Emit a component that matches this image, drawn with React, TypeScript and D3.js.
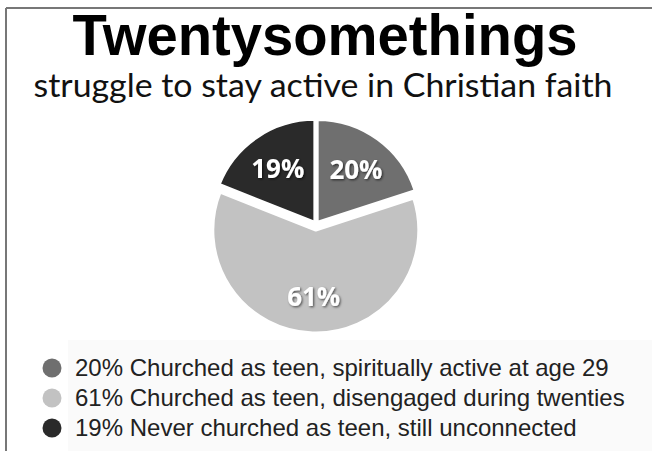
import React from 'react';
import * as d3 from 'd3';

const labels = [
  'Churched as teen, spiritually active at age 29',
  'Churched as teen, disengaged during twenties',
  'Never churched as teen, still unconnected',
];
const shares = [20, 61, 19];
const colors = ['#6f6f6f', '#c2c2c2', '#2a2a2a'];
const offsets = [2, 6, 2];

const App: React.FC = () => {
  const width = 652;
  const height = 451;
  const cx = 316;
  const cy = 224;
  const radius = 103;

  const pie = d3.pie<number>().sort(null).value((d) => d);
  const arcs = pie(shares);
  const arc = d3.arc<d3.PieArcDatum<number>>().innerRadius(0).outerRadius(radius);
  const labelArc = d3.arc<d3.PieArcDatum<number>>().innerRadius(66).outerRadius(66);

  const legendY = d3.scalePoint<number>().domain([0, 1, 2]).range([367, 427]);

  return (
    <svg
      width={width}
      height={height}
      style={{ position: 'absolute', left: 0, top: 0, background: '#fff' }}
    >
      <defs>
        <filter id="shadow" x="-20%" y="-20%" width="140%" height="140%">
          <feDropShadow dx="1.2" dy="1.2" stdDeviation="0.8" floodColor="#000" floodOpacity="0.6" />
        </filter>
      </defs>
      <rect x={68} y={340} width={width - 68} height={height - 340} fill="#fafafa" />
      <line x1={6} y1={8} x2={width} y2={8} stroke="#777" strokeWidth={2} />
      <line x1={6} y1={8} x2={6} y2={height} stroke="#777" strokeWidth={2} />

      <text
        x={325}
        y={55}
        textAnchor="middle"
        fontFamily="'Liberation Sans', Arial, sans-serif"
        fontWeight="bold"
        fontSize={57}
        fill="#000"
        textLength={505}
        lengthAdjust="spacingAndGlyphs"
      >
        Twentysomethings
      </text>
      <text
        x={323}
        y={97}
        textAnchor="middle"
        fontFamily="Lato, 'Open Sans', sans-serif"
        fontSize={32}
        fill="#111"
        textLength={579}
        lengthAdjust="spacingAndGlyphs"
      >
        struggle to stay active in Christian faith
      </text>

      <g transform={`translate(${cx},${cy})`}>
        {arcs.map((a, i) => {
          const mid = (a.startAngle + a.endAngle) / 2;
          const dx = Math.sin(mid) * offsets[i];
          const dy = -Math.cos(mid) * offsets[i];
          const [lx, ly] = labelArc.centroid(a);
          return (
            <g key={i} transform={`translate(${dx},${dy})`}>
              <path d={arc(a) || ''} fill={colors[i]} stroke="#fff" strokeWidth={3} strokeLinejoin="round" />
              <text
                x={lx}
                y={ly}
                textAnchor="middle"
                dominantBaseline="central"
                fontFamily="'Open Sans', sans-serif"
                fontWeight="bold"
                fontSize={26}
                fill="#fff"
                filter="url(#shadow)"
              >
                {shares[i]}%
              </text>
            </g>
          );
        })}
      </g>

      {labels.map((l, i) => (
        <g key={l} transform={`translate(0,${legendY(i)})`}>
          <circle cx={52} cy={1} r={9.5} fill={colors[i]} />
          <text
            x={75}
            y={0}
            dominantBaseline="central"
            fontFamily="'Liberation Sans', Arial, sans-serif"
            fontSize={24}
            fill="#222"
          >
            {shares[i]}% {l}
          </text>
        </g>
      ))}
    </svg>
  );
};

export default App;
